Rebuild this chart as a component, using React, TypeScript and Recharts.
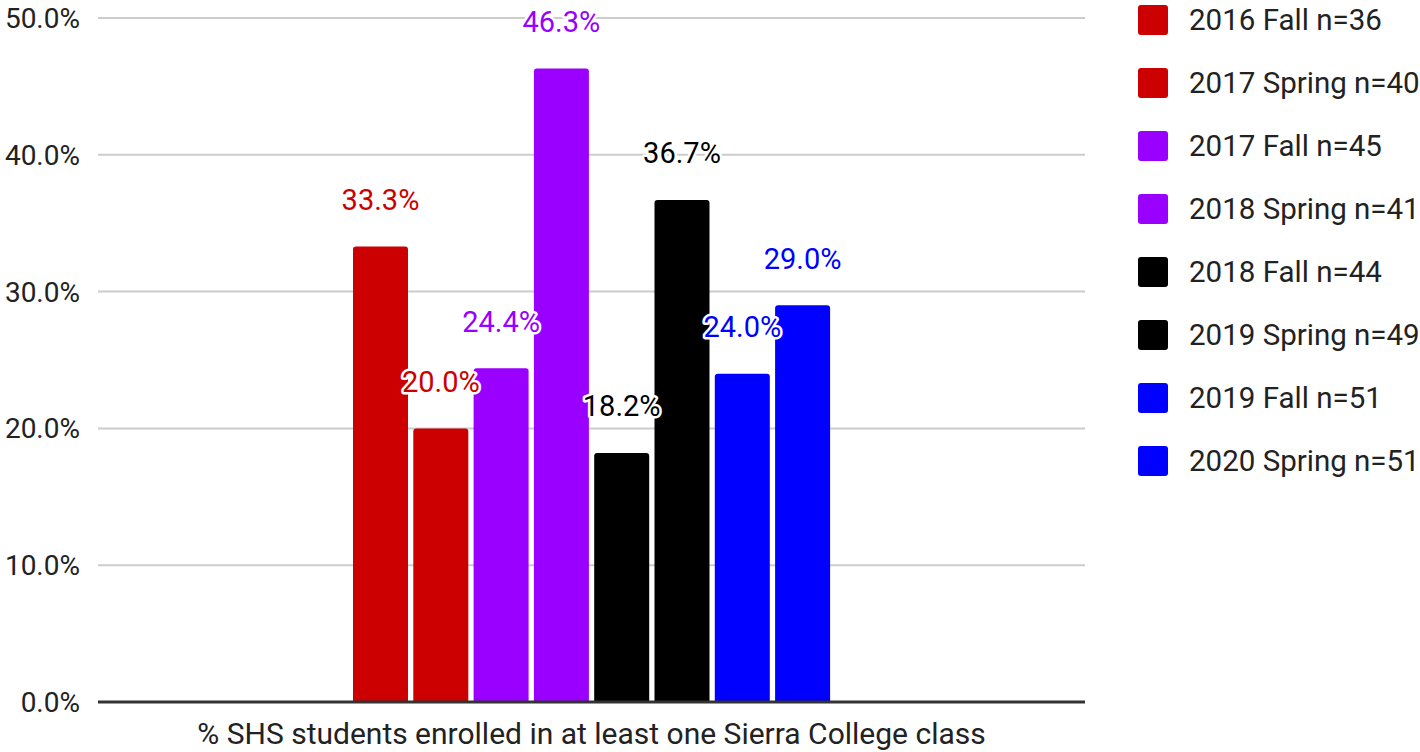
import { BarChart, Bar, XAxis, YAxis, CartesianGrid, LabelList } from 'recharts';

const category = '% SHS students enrolled in at least one Sierra College class';
const seriesNames = [
  '2016 Fall n=36',
  '2017 Spring n=40',
  '2017 Fall n=45',
  '2018 Spring n=41',
  '2018 Fall n=44',
  '2019 Spring n=49',
  '2019 Fall n=51',
  '2020 Spring n=51',
];
const seriesValues = [33.3, 20.0, 24.4, 46.3, 18.2, 36.7, 24.0, 29.0];
const seriesColors = ['#cc0000', '#cc0000', '#9900ff', '#9900ff', '#000000', '#000000', '#0000ff', '#0000ff'];
const yTicks = [0, 10, 20, 30, 40, 50];

const FONT = 'Roboto, sans-serif';

const row: Record<string, string | number> = { name: category };
seriesNames.forEach((s, i) => {
  row[`s${i}`] = seriesValues[i];
});
const data = [row];

const YTick = (props: any) => {
  const { y, payload } = props;
  return (
    <text x={80} y={y} dy="0.36em" textAnchor="end" fontFamily={FONT} fontSize={28} fill="#222">
      {`${payload.value.toFixed(1)}%`}
    </text>
  );
};

const XTick = (props: any) => {
  const { x, y, payload } = props;
  return (
    <text x={x} y={y + 23} dy="0.36em" textAnchor="middle" fontFamily={FONT} fontSize={30} fill="#222">
      {payload.value}
    </text>
  );
};

const makeLabel = (color: string) => (props: any) => {
  const { x, y, width, value } = props;
  return (
    <text
      x={x + width / 2}
      y={y - 47}
      dy="0.36em"
      textAnchor="middle"
      fontFamily={FONT}
      fontSize={29}
      fill={color}
      stroke="#ffffff"
      strokeWidth={5}
      strokeLinejoin="round"
      paintOrder="stroke"
    >
      {`${Number(value).toFixed(1)}%`}
    </text>
  );
};

function Legend() {
  return (
    <div style={{ position: 'absolute', left: 1138, top: 0 }}>
      {seriesNames.map((name, i) => (
        <div
          key={name}
          style={{ position: 'absolute', top: 20 + i * 63 - 15, left: 0, display: 'flex', alignItems: 'center', height: 30, whiteSpace: 'nowrap' }}
        >
          <div style={{ width: 30, height: 30, borderRadius: 3, background: seriesColors[i] }} />
          <span style={{ marginLeft: 21, fontFamily: FONT, fontSize: 29.5, color: '#222' }}>{name}</span>
        </div>
      ))}
    </div>
  );
}

export default function App() {
  return (
    <div style={{ position: 'absolute', left: 0, top: 0, width: 1420, height: 752, background: '#fff' }}>
      <BarChart
        width={1420}
        height={752}
        data={data}
        margin={{ top: 18, right: 335, left: 0, bottom: 0 }}
        barSize={55}
        barGap={5.3}
      >
        <CartesianGrid vertical={false} stroke="#cccccc" strokeWidth={2} />
        <XAxis
          dataKey="name"
          height={50}
          axisLine={{ stroke: '#333333', strokeWidth: 3 }}
          tickLine={false}
          tick={<XTick />}
        />
        <YAxis
          width={98}
          domain={[0, 50]}
          ticks={yTicks}
          axisLine={false}
          tickLine={false}
          tick={<YTick />}
        />
        {seriesNames.map((name, i) => (
          <Bar key={name} dataKey={`s${i}`} name={name} fill={seriesColors[i]} radius={[3, 3, 0, 0]} isAnimationActive={false}>
            <LabelList dataKey={`s${i}`} content={makeLabel(seriesColors[i])} />
          </Bar>
        ))}
      </BarChart>
      <Legend />
    </div>
  );
}
